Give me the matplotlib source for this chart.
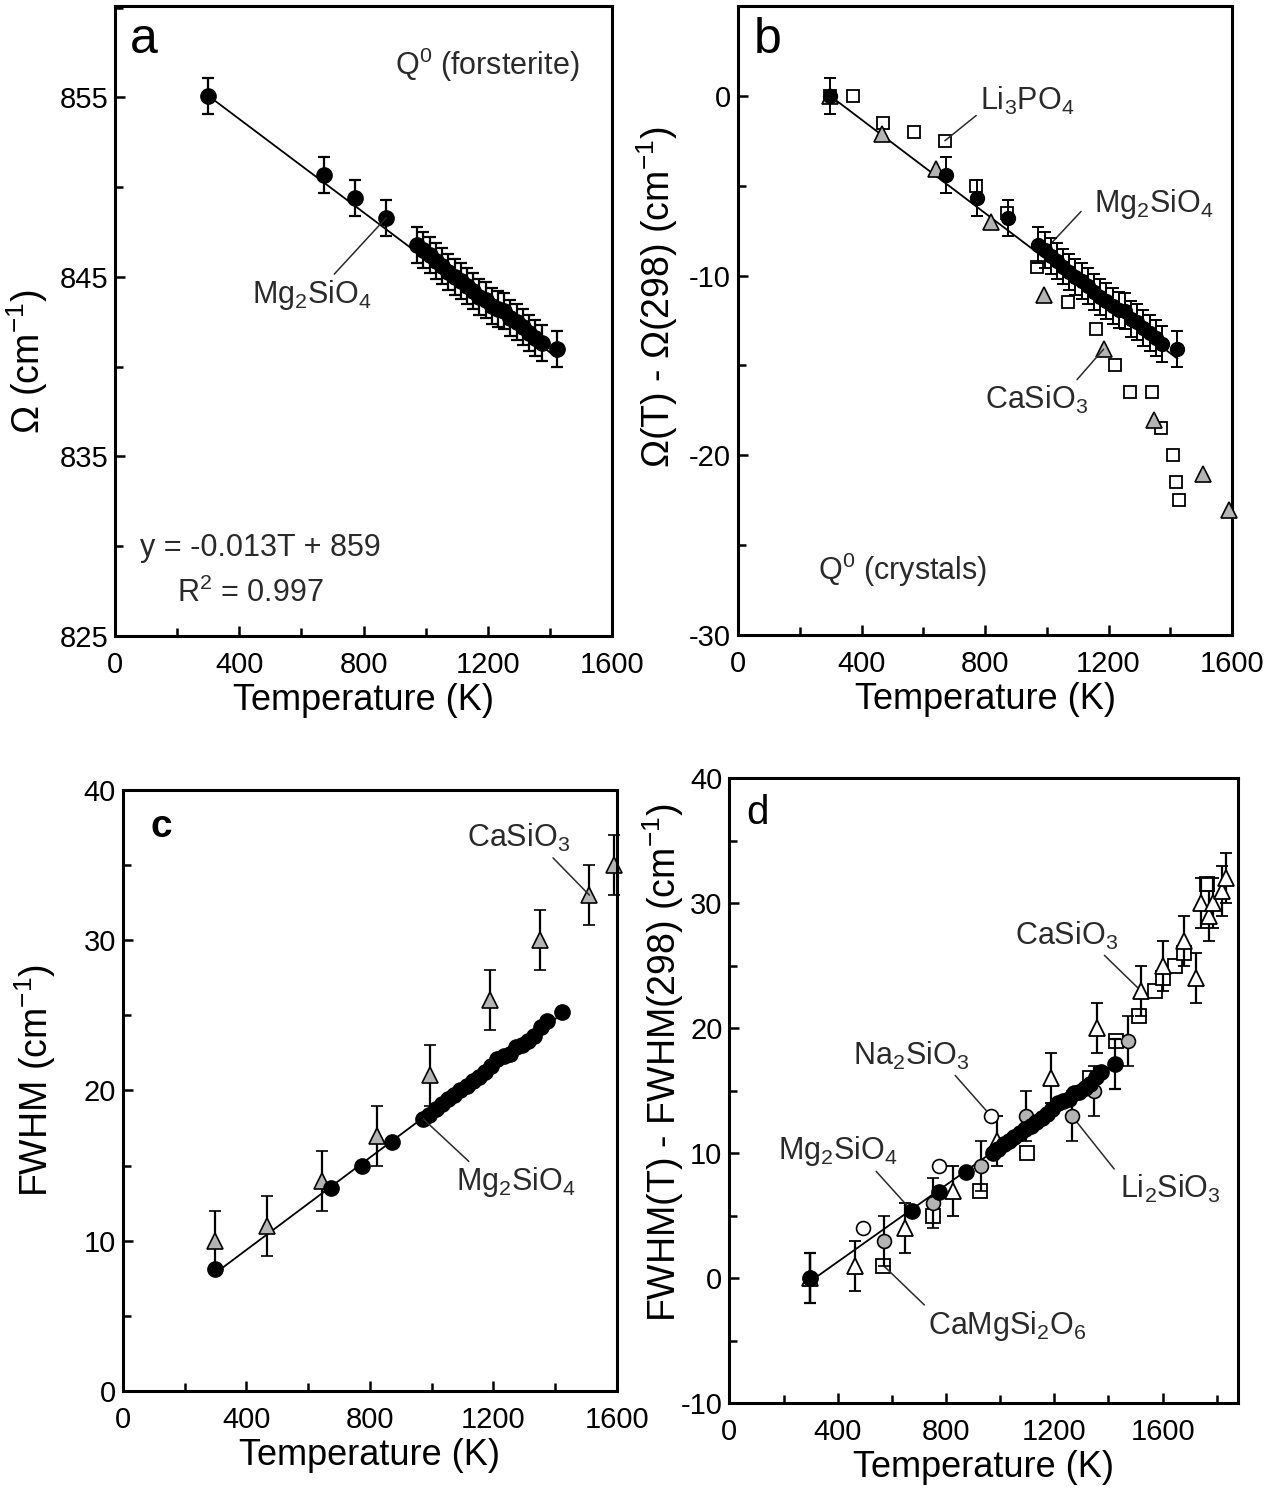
import numpy as np
import matplotlib.pyplot as plt
from matplotlib.ticker import MultipleLocator

plt.rcParams['font.family'] = ['Liberation Sans', 'DejaVu Sans']
plt.rcParams['mathtext.fontset'] = 'custom'
plt.rcParams['mathtext.rm'] = 'Liberation Sans'
plt.rcParams['mathtext.it'] = 'Liberation Sans:italic'
plt.rcParams['mathtext.default'] = 'regular'
plt.rcParams['axes.unicode_minus'] = False

# --- Mg2SiO4 (forsterite), Q0 band ---
mg_T = np.array([298, 673, 773, 873, 973, 993, 1013, 1033, 1053, 1073, 1093, 1113,
                 1133, 1153, 1173, 1193, 1213, 1233, 1253, 1273, 1293, 1313, 1333,
                 1353, 1373, 1423])
mg_omega = np.array([855.1, 850.7, 849.4, 848.3, 846.8, 846.5, 846.2, 845.9, 845.6,
                     845.3, 845.0, 844.8, 844.5, 844.2, 843.9, 843.7, 843.4, 843.2,
                     843.1, 842.7, 842.5, 842.2, 841.9, 841.6, 841.3, 841.0])
mg_fwhm = np.array([8.1, 13.5, 15.0, 16.6, 18.1, 18.4, 18.8, 19.1, 19.4, 19.7, 20.0,
                    20.3, 20.6, 20.9, 21.2, 21.6, 22.1, 22.3, 22.4, 22.9, 23.0, 23.3,
                    23.6, 24.2, 24.6, 25.2])
omega_err = 1.0
fit_slope, fit_icpt = -0.013, 859.0

# --- panel b: other crystals, Omega(T) - Omega(298) ---
li3po4_T = [298, 372, 470, 569, 670, 770, 872, 969, 1070, 1159, 1220, 1271, 1340,
            1371, 1410, 1419, 1427]
li3po4_dw = [0.0, 0.0, -1.5, -2.0, -2.5, -5.0, -6.5, -9.5, -11.5, -13.0, -15.0,
             -16.5, -16.5, -18.5, -20.0, -21.5, -22.5]
casio3_T = [298, 465, 640, 818, 991, 1184, 1347, 1507, 1591]
casio3_dw = [0.0, -2.1, -4.1, -7.0, -11.1, -14.1, -18.05, -21.05, -23.05]

# --- panel c: CaSiO3 FWHM ---
casio3_fwhm_T = [298, 466, 645, 823, 994, 1189, 1352, 1511, 1591]
casio3_fwhm = [10.0, 11.0, 14.0, 17.0, 21.0, 26.0, 30.0, 33.0, 35.0]
casio3_fwhm_err = 2.0

# --- panel d: FWHM(T) - FWHM(298) ---
d_casio3_T = [298, 464, 649, 827, 987, 1188, 1358, 1519, 1600, 1679, 1722, 1742,
              1771, 1786, 1819, 1834]
d_casio3 = [0.0, 1.0, 4.0, 7.0, 11.0, 16.0, 20.0, 23.0, 25.0, 27.0, 24.0, 30.0,
            29.0, 30.0, 31.0, 32.0]
d_camg_T = [569, 753, 926, 1098, 1332, 1428, 1513, 1572, 1600, 1646, 1678, 1764]
d_camg = [1.0, 5.0, 7.0, 10.0, 16.0, 19.0, 21.0, 23.0, 24.0, 25.0, 26.0, 31.5]
d_li2_T = [298, 572, 751, 929, 1095, 1264, 1347, 1473]
d_li2 = [0.0, 3.0, 6.0, 9.0, 13.0, 13.0, 15.0, 19.0]
d_na2_T = [495, 775, 965]
d_na2 = [4.0, 9.0, 13.0]
d_err = 2.0

mg_dw = mg_omega - mg_omega[0]
mg_dfwhm = mg_fwhm - mg_fwhm[0]

GRAY = '#b4b4b4'
TXT = '#2a2a2a'
LAB = 26
TICK = 21
ANN = 22


def style_axes(ax, xlim, ylim, xmaj, ymaj):
    ax.set_xlim(*xlim)
    ax.set_ylim(*ylim)
    ax.xaxis.set_major_locator(MultipleLocator(xmaj))
    ax.xaxis.set_minor_locator(MultipleLocator(xmaj / 2))
    ax.yaxis.set_major_locator(MultipleLocator(ymaj))
    ax.yaxis.set_minor_locator(MultipleLocator(ymaj / 2))
    ax.tick_params(which='both', direction='in', top=False, right=False,
                   width=1.8, labelsize=TICK)
    ax.tick_params(axis='x', which='both', pad=11)
    ax.tick_params(axis='y', which='both', pad=5)
    ax.tick_params(which='major', length=7)
    ax.tick_params(which='minor', length=6)
    for s in ax.spines.values():
        s.set_linewidth(2.2)
    ax.set_xlabel('Temperature (K)', fontsize=LAB, labelpad=3)


def label(ax, text, xy, xytext, relpos):
    ax.annotate(text, xy=xy, xytext=xytext, fontsize=ANN, color=TXT,
                ha='left', va='center',
                arrowprops=dict(arrowstyle='-', color=TXT, lw=1.1,
                                relpos=relpos, shrinkA=1, shrinkB=0))


fig = plt.figure(figsize=(12.78, 14.88), dpi=100)

# ---------------- panel a ----------------
ax = fig.add_axes([0.0900, 0.5726, 0.3889, 0.4234])
tt = np.array([mg_T[0], mg_T[-1]])
ax.plot(tt, fit_slope * tt + fit_icpt, color='k', lw=1.3, zorder=1)
ax.errorbar(mg_T, mg_omega, yerr=omega_err, fmt='o', color='k', ms=11,
            capsize=4.5, elinewidth=1.6, capthick=1.6, zorder=2)
style_axes(ax, (0, 1600), (825, 860.1), 400, 10)
ax.yaxis.set_major_locator(MultipleLocator(10, offset=5))
ax.yaxis.set_minor_locator(MultipleLocator(5))
ax.set_ylabel(r'$\Omega$ (cm$^{-1}$)', fontsize=27)
ax.yaxis.set_label_coords(-0.131, 0.435)
ax.text(0.03, 0.946, 'a', transform=ax.transAxes, fontsize=36, va='center')
ax.text(1198, 856.8, r'Q$^0$ (forsterite)', fontsize=ANN, color=TXT,
        ha='center', va='center')
label(ax, r'Mg$_2$SiO$_4$', (mg_T[3], mg_omega[3]), (440, 844.0), (0.66, 1.0))
ax.text(80, 829.9, 'y = -0.013T + 859', fontsize=ANN, color=TXT, va='center')
ax.text(200, 827.35, r'R$^2$ = 0.997', fontsize=ANN, color=TXT, va='center')

# ---------------- panel b ----------------
ax = fig.add_axes([0.5775, 0.5733, 0.3865, 0.4227])
ax.plot(tt, fit_slope * (tt - mg_T[0]), color='k', lw=1.3, zorder=1)
ax.plot(li3po4_T, li3po4_dw, 's', ms=9, mfc='white', mec='k', mew=1.3,
        zorder=2, clip_on=False)
ax.plot(casio3_T, casio3_dw, '^', ms=11, mfc=GRAY, mec='k', mew=1.2,
        zorder=3, clip_on=False)
ax.errorbar(mg_T, mg_dw, yerr=omega_err, fmt='o', color='k', ms=10,
            capsize=4.5, elinewidth=1.4, capthick=1.4, zorder=4)
style_axes(ax, (0, 1600), (-30, 5), 400, 10)
ax.set_ylabel(r'$\Omega$(T) - $\Omega$(298) (cm$^{-1}$)', fontsize=27)
ax.yaxis.set_label_coords(-0.117, 0.537)
ax.text(0.032, 0.946, 'b', transform=ax.transAxes, fontsize=36, va='center')
label(ax, r'Li$_3$PO$_4$', (li3po4_T[4], li3po4_dw[4]), (784, -0.3), (0.02, 0.2))
label(ax, r'Mg$_2$SiO$_4$', (mg_T[5], mg_dw[5]), (1153, -6.0), (-0.1, 0.3))
label(ax, r'CaSiO$_3$', (casio3_T[5], casio3_dw[5]), (800, -16.9), (0.86, 1.0))
ax.text(259, -26.4, r'Q$^0$ (crystals)', fontsize=ANN, color=TXT, va='center')

# ---------------- panel c ----------------
ax = fig.add_axes([0.0962, 0.0652, 0.3865, 0.4039])
pc = np.polyfit(mg_T, mg_fwhm, 1)
ax.plot(tt, np.polyval(pc, tt), color='k', lw=1.3, zorder=1)
ax.errorbar(casio3_fwhm_T, casio3_fwhm, yerr=casio3_fwhm_err, fmt='^', ms=12,
            mfc=GRAY, mec='k', mew=1.2, ecolor='k', capsize=4.5,
            elinewidth=1.6, capthick=1.6, zorder=2, clip_on=False)
ax.plot(mg_T, mg_fwhm, 'o', color='k', ms=11, zorder=3)
style_axes(ax, (0, 1600), (0, 40), 400, 10)
ax.set_ylabel(r'FWHM (cm$^{-1}$)', fontsize=27)
ax.yaxis.set_label_coords(-0.132, 0.517)
ax.text(0.055, 0.938, 'c', transform=ax.transAxes, fontsize=28,
        fontweight='bold', va='center')
label(ax, r'CaSiO$_3$', (casio3_fwhm_T[7], casio3_fwhm[7]), (1114, 36.8), (0.8, 0.0))
label(ax, r'Mg$_2$SiO$_4$', (mg_T[4], mg_fwhm[4]), (1079, 13.9), (0.14, 1.0))

# ---------------- panel d ----------------
ax = fig.add_axes([0.5707, 0.0571, 0.3983, 0.4200])
pd_ = np.polyfit(mg_T, mg_dfwhm, 1)
ax.plot(tt, np.polyval(pd_, tt), color='k', lw=1.3, zorder=1)
ax.plot(d_camg_T, d_camg, 's', ms=10, mfc='white', mec='k', mew=1.3, zorder=2)
ax.errorbar(d_casio3_T, d_casio3, yerr=d_err, fmt='^', ms=11, mfc='white',
            mec='k', mew=1.3, ecolor='k', capsize=4.5, elinewidth=1.6,
            capthick=1.6, zorder=3)
ax.errorbar(d_li2_T, d_li2, yerr=d_err, fmt='o', ms=10, mfc=GRAY, mec='k',
            mew=1.2, ecolor='k', capsize=4.5, elinewidth=1.6, capthick=1.6,
            zorder=4)
ax.plot(d_na2_T, d_na2, 'o', ms=10, mfc='white', mec='k', mew=1.2, zorder=5)
ends = [0, len(mg_T) - 1]
ax.errorbar(mg_T[ends], mg_dfwhm[ends], yerr=d_err, fmt='none', ecolor='k',
            capsize=4.5, elinewidth=1.6, capthick=1.6, zorder=6)
ax.plot(mg_T, mg_dfwhm, 'o', color='k', ms=11, zorder=7)
style_axes(ax, (0, 1880), (-10, 40), 400, 10)
ax.set_ylabel(r'FWHM(T) - FWHM(298) (cm$^{-1}$)', fontsize=27)
ax.yaxis.set_label_coords(-0.086, 0.544)
ax.text(0.033, 0.944, 'd', transform=ax.transAxes, fontsize=29, va='center')
label(ax, r'CaSiO$_3$', (d_casio3_T[7], d_casio3[7]), (1055, 27.4), (0.83, 0.0))
label(ax, r'Na$_2$SiO$_3$', (d_na2_T[2], d_na2[2]), (457, 17.8), (0.85, 0.0))
label(ax, r'Mg$_2$SiO$_4$', (mg_T[1], mg_dfwhm[1]), (180, 10.2), (0.79, 0.0))
label(ax, r'Li$_2$SiO$_3$', (d_li2_T[5], d_li2[5]), (1443, 7.1), (-0.05, 1.1))
label(ax, r'CaMgSi$_2$O$_6$', (d_camg_T[0], d_camg[0]), (734, -3.8), (0.0, 1.0))

fig.savefig('out.png', dpi=100)
